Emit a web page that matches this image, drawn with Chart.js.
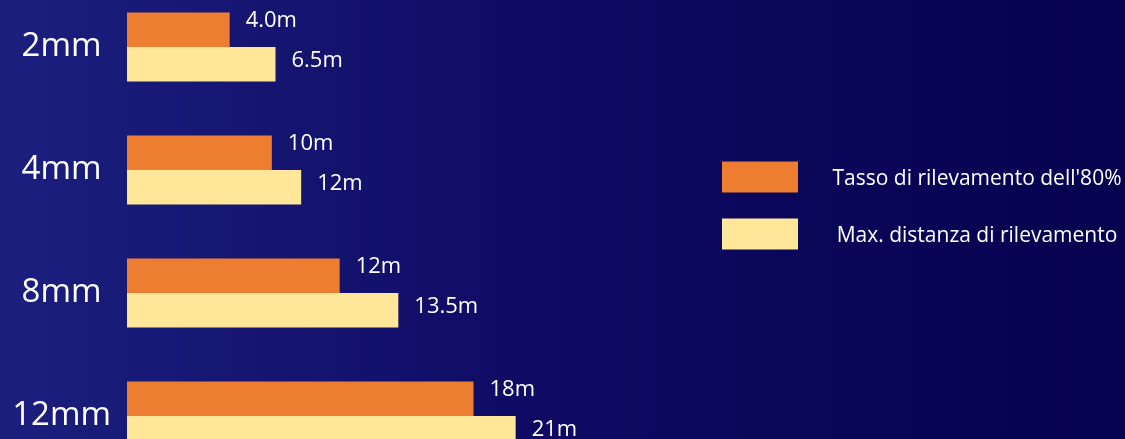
<!DOCTYPE html>
<html>
<head>
<meta charset="utf-8">
<script src="https://cdn.jsdelivr.net/npm/chart.js@4/dist/chart.umd.min.js"></script>
<style>
    html, body { margin: 0; padding: 0; background: #0e0a62; overflow: hidden; }
    #wrap { width: 1125px; height: 439px; position: relative; }
</style>
</head>
<body>
<div id="wrap"><canvas id="chart"></canvas></div>
<script>
// Sensor sizes (rows, top to bottom)
var categories = ['2mm', '4mm', '8mm', '12mm'];

// Bar lengths as drawn in the picture (the source bars are not to scale with their labels)
var detectBars = [5.6, 7.9, 11.6, 18.9];
var maxBars = [8.1, 9.5, 14.8, 21.2];

// Value labels printed next to the bars
var detectLabels = ['4.0m', '10m', '12m', '18m'];
var maxLabels = ['6.5m', '12m', '13.5m', '21m'];

var seriesNames = ["Tasso di rilevamento dell'80%", 'Max. distanza di rilevamento'];

var ORANGE = '#ED7D31';
var YELLOW = '#FFE699';
var FONT = '"Open Sans", "Noto Sans", sans-serif';

(function () {
    'use strict';

    // gradient background
    var bgPlugin = {
        id: 'bg',
        beforeDraw: function (chart) {
            var c = chart.ctx;
            var g = c.createLinearGradient(0, 0, chart.width, 0);
            g.addColorStop(0, '#1c1f7e');
            g.addColorStop(0.5, '#0e0a62');
            g.addColorStop(1, '#05024f');
            c.save();
            c.fillStyle = g;
            c.fillRect(0, 0, chart.width, chart.height);
            c.restore();
        }
    };

    // value labels at the bar ends
    var valuePlugin = {
        id: 'values',
        afterDatasetsDraw: function (chart) {
            var c = chart.ctx;
            c.save();
            c.fillStyle = '#ffffff';
            c.font = '22px ' + FONT;
            c.textAlign = 'left';
            c.textBaseline = 'middle';
            chart.data.datasets.forEach(function (ds, di) {
                var meta = chart.getDatasetMeta(di);
                var texts = di === 0 ? detectLabels : maxLabels;
                var dy = di === 0 ? -9 : -3;
                meta.data.forEach(function (bar, i) {
                    c.fillText(texts[i], bar.x + 16, bar.y + dy);
                });
            });
            c.restore();
        }
    };

    // legend on the right
    var legendPlugin = {
        id: 'sideLegend',
        afterDraw: function (chart) {
            var c = chart.ctx;
            var colors = [ORANGE, YELLOW];
            var rows = [177, 234];
            c.save();
            c.font = '21px ' + FONT;
            c.textAlign = 'center';
            c.textBaseline = 'middle';
            seriesNames.forEach(function (name, i) {
                c.fillStyle = colors[i];
                c.fillRect(722, rows[i] - 15.5, 76, 31);
                c.fillStyle = '#ffffff';
                c.fillText(name, 977, rows[i] + 2);
            });
            c.restore();
        }
    };

    var ctx = document.getElementById('chart');

    new Chart(ctx, {
        type: 'bar',
        data: {
            labels: categories,
            datasets: [
                {
                    label: seriesNames[0],
                    data: detectBars,
                    backgroundColor: ORANGE,
                    borderWidth: 0,
                    categoryPercentage: 0.56,
                    barPercentage: 1.0,
                    clip: false
                },
                {
                    label: seriesNames[1],
                    data: maxBars,
                    backgroundColor: YELLOW,
                    borderWidth: 0,
                    categoryPercentage: 0.56,
                    barPercentage: 1.0,
                    clip: false
                }
            ]
        },
        options: {
            indexAxis: 'y',
            responsive: true,
            maintainAspectRatio: false,
            animation: false,
            layout: { padding: { top: 47, bottom: 23, left: 0, right: 448 } },
            plugins: {
                legend: { display: false },
                tooltip: { enabled: false }
            },
            scales: {
                x: {
                    display: false,
                    min: 0,
                    max: 30
                },
                y: {
                    offset: false,
                    grid: { display: false },
                    border: { display: false },
                    ticks: {
                        color: '#ffffff',
                        font: { family: FONT, size: 33 },
                        crossAlign: 'center',
                        padding: 8
                    },
                    afterFit: function (scale) {
                        scale.width = 127;
                        scale.paddingTop = 0;
                        scale.paddingBottom = 0;
                    }
                }
            }
        },
        plugins: [bgPlugin, valuePlugin, legendPlugin]
    });
})();
</script>
</body>
</html>
